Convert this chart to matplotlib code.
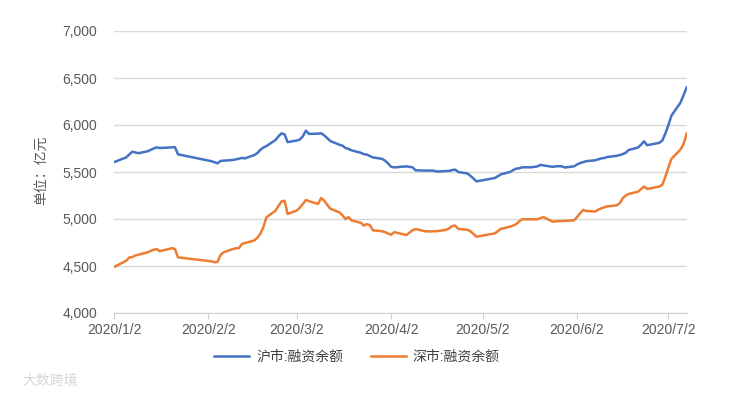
import numpy as np
import pandas as pd
import matplotlib
matplotlib.use('Agg')
import matplotlib.pyplot as plt
import matplotlib.dates as mdates
from matplotlib.ticker import FuncFormatter

plt.rcParams['font.family'] = ['Liberation Sans', 'Noto Sans CJK SC', 'DejaVu Sans']

# 沪市:融资余额 (亿元)
sh_dates = ['01-02', '01-06', '01-08', '01-10', '01-13', '01-15', '01-16', '01-17', '01-21', '01-22',
            '01-23', '02-03', '02-05', '02-06', '02-10', '02-11', '02-13', '02-14', '02-17', '02-18',
            '02-19', '02-20', '02-21', '02-24', '02-25', '02-26', '02-27', '02-28', '03-02', '03-03',
            '03-04', '03-05', '03-06', '03-09', '03-10', '03-11', '03-12', '03-13', '03-16', '03-17',
            '03-18', '03-19', '03-20', '03-23', '03-24', '03-25', '03-26', '03-27', '03-30', '03-31',
            '04-01', '04-02', '04-03', '04-07', '04-08', '04-09', '04-10', '04-13', '04-14', '04-15',
            '04-16', '04-17', '04-20', '04-21', '04-22', '04-23', '04-24', '04-27', '04-28', '04-29',
            '04-30', '05-06', '05-07', '05-08', '05-11', '05-12', '05-13', '05-14', '05-15', '05-18',
            '05-19', '05-20', '05-21', '05-22', '05-25', '05-26', '05-27', '05-28', '05-29', '06-01',
            '06-02', '06-03', '06-04', '06-05', '06-08', '06-09', '06-10', '06-11', '06-12', '06-15',
            '06-16', '06-17', '06-18', '06-19', '06-22', '06-23', '06-24', '06-25', '06-29', '06-30',
            '07-01', '07-02', '07-03', '07-06', '07-07', '07-08']
sh_values = [5605, 5655, 5716, 5700, 5720, 5750, 5762, 5755, 5762, 5765,
             5688, 5615, 5592, 5618, 5628, 5634, 5650, 5645, 5680, 5700,
             5734, 5760, 5775, 5840, 5880, 5911, 5900, 5818, 5835, 5845,
             5880, 5940, 5905, 5908, 5912, 5890, 5860, 5830, 5790, 5780,
             5755, 5745, 5730, 5705, 5690, 5685, 5670, 5655, 5640, 5620,
             5590, 5555, 5549, 5560, 5555, 5550, 5518, 5515, 5515, 5515,
             5514, 5505, 5510, 5512, 5520, 5525, 5500, 5485, 5460, 5430,
             5400, 5436, 5455, 5475, 5500, 5520, 5535, 5540, 5550, 5550,
             5555, 5560, 5575, 5570, 5555, 5560, 5562, 5560, 5548, 5560,
             5580, 5595, 5605, 5615, 5625, 5635, 5645, 5650, 5660, 5672,
             5680, 5690, 5705, 5735, 5760, 5790, 5826, 5785, 5810, 5835,
             5910, 6000, 6100, 6240, 6320, 6400]

# 深市:融资余额 (亿元)
sz_dates = ['01-02', '01-03', '01-06', '01-07', '01-08', '01-09', '01-10', '01-13', '01-14', '01-15',
            '01-16', '01-17', '01-20', '01-21', '01-22', '01-23', '02-03', '02-04', '02-05', '02-06',
            '02-07', '02-10', '02-11', '02-12', '02-13', '02-14', '02-17', '02-18', '02-19', '02-20',
            '02-21', '02-24', '02-25', '02-26', '02-27', '02-28', '03-02', '03-03', '03-04', '03-05',
            '03-06', '03-09', '03-10', '03-11', '03-12', '03-13', '03-16', '03-17', '03-18', '03-19',
            '03-20', '03-23', '03-24', '03-25', '03-26', '03-27', '03-30', '03-31', '04-01', '04-02',
            '04-03', '04-07', '04-08', '04-09', '04-10', '04-13', '04-14', '04-15', '04-16', '04-17',
            '04-20', '04-21', '04-22', '04-23', '04-24', '04-27', '04-28', '04-29', '04-30', '05-06',
            '05-07', '05-08', '05-11', '05-12', '05-13', '05-14', '05-15', '05-18', '05-19', '05-20',
            '05-21', '05-22', '05-25', '05-26', '05-27', '05-28', '05-29', '06-01', '06-02', '06-03',
            '06-04', '06-05', '06-08', '06-09', '06-10', '06-11', '06-12', '06-15', '06-16', '06-17',
            '06-18', '06-19', '06-22', '06-23', '06-24', '06-25', '06-29', '06-30', '07-01', '07-02',
            '07-03', '07-06', '07-07', '07-08']
sz_values = [4490, 4505, 4556, 4590, 4595, 4612, 4620, 4645, 4660, 4672,
             4680, 4658, 4680, 4690, 4680, 4592, 4550, 4540, 4545, 4620,
             4645, 4680, 4688, 4690, 4734, 4745, 4770, 4800, 4840, 4910,
             5017, 5088, 5140, 5187, 5195, 5053, 5090, 5120, 5160, 5202,
             5190, 5160, 5223, 5195, 5150, 5110, 5070, 5040, 5000, 5020,
             4985, 4960, 4930, 4945, 4935, 4880, 4870, 4860, 4845, 4833,
             4860, 4830, 4855, 4880, 4893, 4870, 4868, 4868, 4870, 4870,
             4885, 4900, 4925, 4930, 4895, 4885, 4870, 4840, 4812, 4847,
             4870, 4895, 4918, 4930, 4945, 4975, 4997, 4997, 4997, 4997,
             5010, 5020, 4972, 4975, 4978, 4978, 4980, 4985, 5020, 5060,
             5096, 5085, 5080, 5100, 5114, 5125, 5135, 5145, 5167, 5220,
             5250, 5267, 5290, 5317, 5345, 5320, 5345, 5365, 5450, 5550,
             5640, 5740, 5800, 5910]

x_ticks = ['2020-01-02', '2020-02-02', '2020-03-02', '2020-04-02',
           '2020-05-02', '2020-06-02', '2020-07-02']
x_labels = ['2020/1/2', '2020/2/2', '2020/3/2', '2020/4/2',
            '2020/5/2', '2020/6/2', '2020/7/2']
y_ticks = [4000, 4500, 5000, 5500, 6000, 6500, 7000]

sh_x = pd.to_datetime(['2020-' + d for d in sh_dates])
sz_x = pd.to_datetime(['2020-' + d for d in sz_dates])

fig = plt.figure(figsize=(7.39, 3.98), dpi=100)
ax = fig.add_axes([114 / 739, 1 - 313 / 398, (686.7 - 114) / 739, (313 - 31) / 398])

ax.plot(sh_x, sh_values, color='#4472C4', lw=1.8, label='沪市:融资余额')
ax.plot(sz_x, sz_values, color='#ED7D31', lw=1.8, label='深市:融资余额')

ax.set_xlim(pd.Timestamp('2020-01-02'), pd.Timestamp('2020-07-08'))
ax.set_ylim(4000, 7000)
ax.set_yticks(y_ticks)
ax.yaxis.set_major_formatter(FuncFormatter(lambda v, p: f'{int(v):,}'))
ax.set_xticks(pd.to_datetime(x_ticks))
ax.set_xticklabels(x_labels)

ax.grid(axis='y', color='#d9d9d9', lw=1)
ax.set_axisbelow(True)
for s in ['top', 'right', 'left']:
    ax.spines[s].set_visible(False)
ax.spines['bottom'].set_color('#d0d0d0')
ax.tick_params(axis='y', length=0, pad=12, labelsize=10, labelcolor='#595959')
ax.tick_params(axis='x', length=4, color='#d0d0d0', pad=3, labelsize=10, labelcolor='#595959')

fig.text(41 / 739, 1 - 170 / 398, '单位：亿元', rotation=90, ha='center', va='center',
         fontsize=10, color='#595959')

fig.legend(loc='center', bbox_to_anchor=(357 / 739, 1 - 357 / 398), ncol=2, frameon=False,
           handlelength=2.5, handletextpad=0.5, columnspacing=2.0, fontsize=10,
           labelcolor='#404040')

fig.text(22 / 739, 1 - 381 / 398, '大数跨境', ha='left', va='center', fontsize=10, color='#d6d6d6')

fig.savefig('out.png', dpi=100)
